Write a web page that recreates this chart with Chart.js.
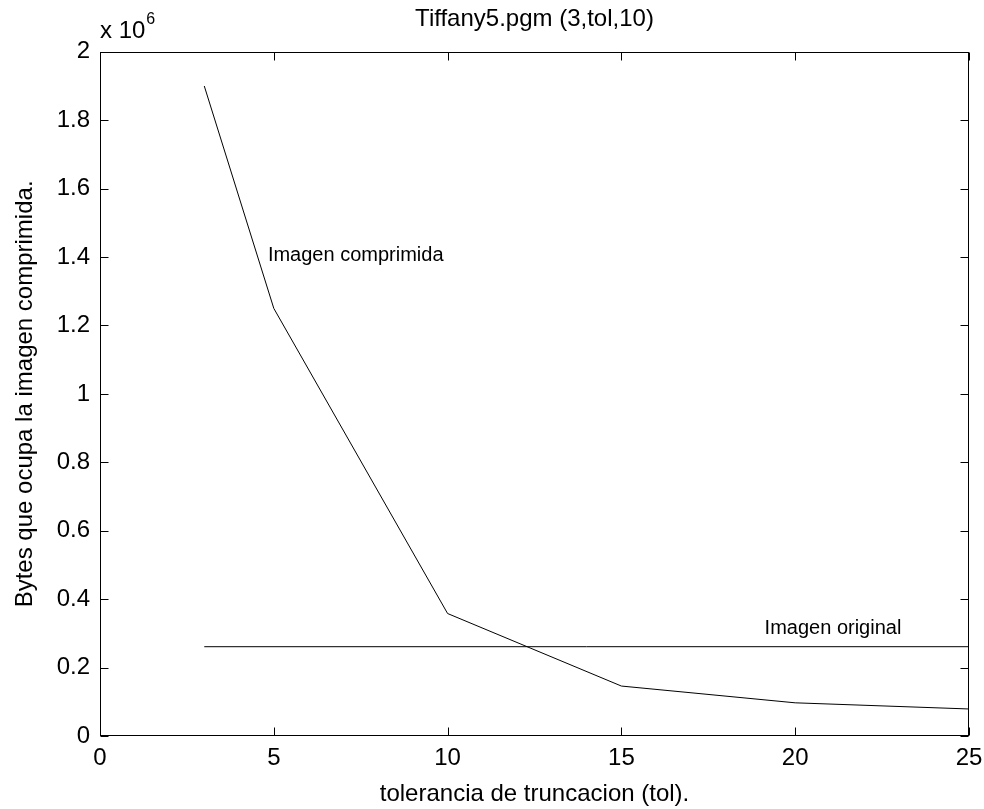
<!DOCTYPE html>
<html>
<head>
<meta charset="utf-8">
<script src="https://cdn.jsdelivr.net/npm/chart.js@4.4.0/dist/chart.umd.min.js"></script>
<style>
  body { margin: 0; background: #ffffff; }
  canvas { display: block; }
</style>
</head>
<body>
<canvas id="tolChart" width="984" height="809"></canvas>
<script>
// Datos
const tolValues = [3, 5, 10, 15, 20, 25];
const compressedBytes = [1.90e6, 1.25e6, 0.358e6, 0.146e6, 0.097e6, 0.079e6];
const originalTol = [3, 25];
const originalBytes = [0.261e6, 0.261e6];

const xTicks = [0, 5, 10, 15, 20, 25];
const yTicks = [0, 0.2, 0.4, 0.6, 0.8, 1, 1.2, 1.4, 1.6, 1.8, 2];

const chartTitle = 'Tiffany5.pgm (3,tol,10)';
const xTitle = 'tolerancia de truncacion (tol).';
const yTitle = 'Bytes que ocupa la imagen comprimida.';

// Etiquetas dentro del grafico: [texto, tol, bytes]
const labels = [
    ['Imagen comprimida', 4.83, 1.405e6],
    ['Imagen original', 19.12, 0.313e6]
];

const fontFamily = '"Liberation Sans", Arial, sans-serif';
const tickLen = 8;

// Caja estilo MATLAB con marcas hacia dentro
const boxPlugin = {
    id: 'boxPlugin',
    afterDatasetsDraw(chart) {
        const ctx = chart.ctx;
        const area = chart.chartArea;
        const xs = chart.scales.x;
        const ys = chart.scales.y;
        ctx.save();
        ctx.strokeStyle = '#000';
        ctx.lineWidth = 1;
        const l = Math.round(area.left) + 0.5;
        const r = Math.round(area.right) - 0.5;
        const t = Math.round(area.top) + 0.5;
        const b = Math.round(area.bottom) - 0.5;
        ctx.strokeRect(l, t, r - l, b - t);
        ctx.beginPath();
        xs.ticks.forEach(tk => {
            const px = Math.round(xs.getPixelForValue(tk.value)) + 0.5;
            ctx.moveTo(px, b); ctx.lineTo(px, b - tickLen);
            ctx.moveTo(px, t); ctx.lineTo(px, t + tickLen);
        });
        ys.ticks.forEach(tk => {
            const py = Math.round(ys.getPixelForValue(tk.value)) + 0.5;
            ctx.moveTo(l, py); ctx.lineTo(l + tickLen, py);
            ctx.moveTo(r, py); ctx.lineTo(r - tickLen, py);
        });
        ctx.stroke();

        // textos de las curvas
        ctx.fillStyle = '#000';
        ctx.font = '20px ' + fontFamily;
        ctx.textBaseline = 'middle';
        ctx.textAlign = 'left';
        labels.forEach(lb => {
            ctx.fillText(lb[0], xs.getPixelForValue(lb[1]), ys.getPixelForValue(lb[2]));
        });

        // factor de escala del eje y
        ctx.textBaseline = 'alphabetic';
        ctx.font = '24px ' + fontFamily;
        ctx.fillText('x 10', area.left, 38);
        const w = ctx.measureText('x 10').width;
        ctx.font = '16px ' + fontFamily;
        ctx.fillText('6', area.left + w + 1, 24);
        ctx.restore();
    }
};

const ctx = document.getElementById('tolChart').getContext('2d');
new Chart(ctx, {
    type: 'line',
    data: {
        datasets: [{
            label: 'Imagen comprimida',
            data: tolValues.map((t, i) => ({ x: t, y: compressedBytes[i] })),
            borderColor: '#000',
            borderWidth: 1,
            pointRadius: 0,
            tension: 0,
            fill: false
        }, {
            label: 'Imagen original',
            data: originalTol.map((t, i) => ({ x: t, y: originalBytes[i] })),
            borderColor: '#000',
            borderWidth: 1,
            pointRadius: 0,
            tension: 0,
            fill: false
        }]
    },
    options: {
        responsive: false,
        animation: false,
        layout: { padding: { left: 0, right: 15, top: 0, bottom: 0 } },
        plugins: {
            legend: { display: false },
            tooltip: { enabled: false },
            title: {
                display: true,
                text: chartTitle,
                fullSize: false,
                color: '#000',
                font: { family: fontFamily, size: 24, weight: 'normal' },
                padding: { top: 5, bottom: 18 }
            }
        },
        scales: {
            x: {
                type: 'linear',
                min: 0,
                max: 25,
                afterBuildTicks: s => { s.ticks = xTicks.map(v => ({ value: v })); },
                grid: { display: false, drawTicks: false },
                border: { display: false },
                ticks: {
                    color: '#000',
                    padding: 8,
                    maxRotation: 0,
                    font: { family: fontFamily, size: 24 }
                },
                title: {
                    display: true,
                    text: xTitle,
                    color: '#000',
                    font: { family: fontFamily, size: 24 },
                    padding: { top: 0, bottom: 0 }
                },
                afterFit: s => {
                    s.height = 73;
                    s.paddingLeft = 0;
                    s.paddingRight = 0;
                }
            },
            y: {
                type: 'linear',
                min: 0,
                max: 2e6,
                afterBuildTicks: s => { s.ticks = yTicks.map(v => ({ value: v * 1e6 })); },
                grid: { display: false, drawTicks: false },
                border: { display: false },
                ticks: {
                    color: '#000',
                    padding: 10,
                    font: { family: fontFamily, size: 24 },
                    callback: v => String(Math.round(v / 1e5) / 10)
                },
                title: {
                    display: true,
                    text: yTitle,
                    color: '#000',
                    font: { family: fontFamily, size: 24 },
                    padding: { top: 11, bottom: 0 }
                },
                afterFit: s => {
                    s.width = 100;
                    s.paddingTop = 0;
                    s.paddingBottom = 0;
                }
            }
        }
    },
    plugins: [boxPlugin]
});
</script>
</body>
</html>
